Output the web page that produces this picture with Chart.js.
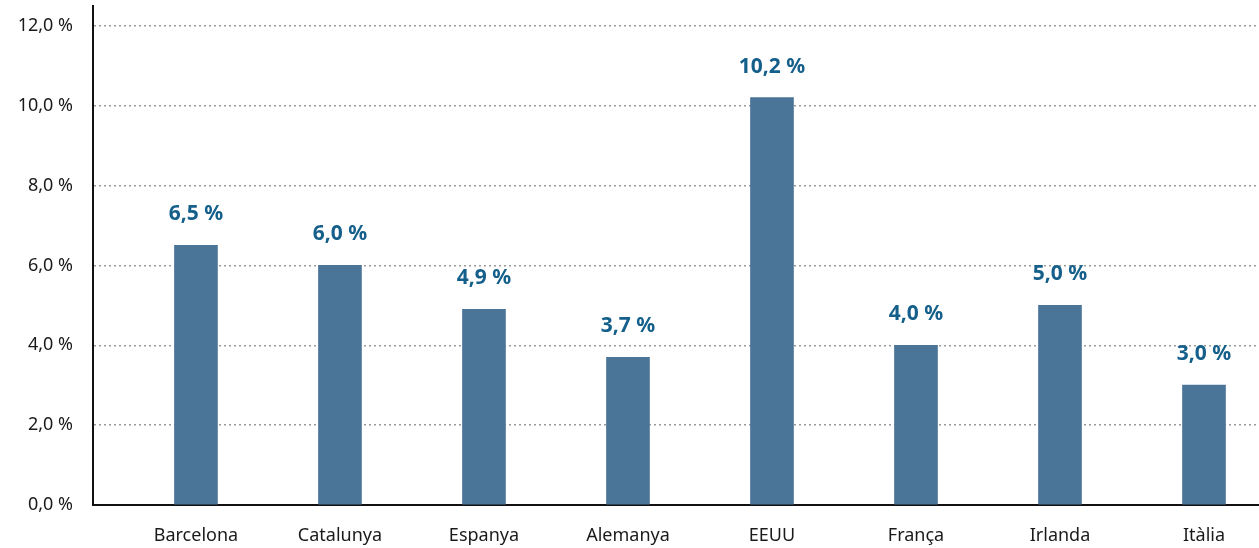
<!DOCTYPE html>
<html>
<head>
<meta charset="utf-8">
<script src="https://cdn.jsdelivr.net/npm/chart.js@4/dist/chart.umd.min.js"></script>
<style>
  html, body { margin: 0; padding: 0; background: #fff; overflow: hidden; }
  #cadre { width: 1259px; height: 548px; overflow: hidden; position: relative; }
  #wrap { width: 1259px; height: 573px; position: absolute; top: -25px; left: 0; }
</style>
</head>
<body>
<div id="cadre"><div id="wrap"><canvas id="grafic"></canvas></div></div>
<script>
// dades llegides del gràfic
const categories = ['Barcelona', 'Catalunya', 'Espanya', 'Alemanya', 'EEUU', 'França', 'Irlanda', 'Itàlia'];
const valors = [6.5, 6.0, 4.9, 3.7, 10.2, 4.0, 5.0, 3.0];
const ticksY = [0, 2, 4, 6, 8, 10, 12];

const fmt = v => v.toFixed(1).replace('.', ',') + ' %';

// etiquetes sobre les barres
const etiquetes = {
  id: 'etiquetes',
  afterDatasetsDraw(chart) {
    const ctx = chart.ctx;
    const meta = chart.getDatasetMeta(0);
    ctx.save();
    ctx.font = 'bold 21px "Noto Sans"';
    ctx.fillStyle = '#155f8b';
    ctx.textAlign = 'center';
    ctx.textBaseline = 'middle';
    meta.data.forEach((bar, i) => {
      ctx.fillText(fmt(valors[i]), bar.x, bar.y - 31);
    });
    ctx.restore();
  }
};

const ctx = document.getElementById('grafic').getContext('2d');
new Chart(ctx, {
  type: 'bar',
  data: {
    datasets: [{
      data: valors.map((v, i) => ({ x: i, y: v })),
      backgroundColor: '#4a7599',
      barThickness: 43
    }]
  },
  options: {
    responsive: true,
    maintainAspectRatio: false,
    animation: false,
    layout: { padding: { top: 5, right: 0, bottom: 0, left: 0 } },
    plugins: { legend: { display: false }, tooltip: { enabled: false } },
    scales: {
      x: {
        type: 'linear',
        offset: false,
        min: -0.715,
        max: 7.382,
        afterBuildTicks: axis => { axis.ticks = categories.map((_, i) => ({ value: i })); },
        afterFit: axis => { axis.height = 43; },
        grid: { display: false },
        border: { display: true, color: '#111', width: 2 },
        ticks: {
          color: '#1a1a1a',
          font: { family: 'Noto Sans', size: 18 },
          padding: 12,
          autoSkip: false,
          maxRotation: 0,
          callback: v => categories[v]
        }
      },
      y: {
        min: 0,
        max: 12.5,
        afterBuildTicks: axis => { axis.ticks = ticksY.map(v => ({ value: v })); },
        afterFit: axis => { axis.width = 93; },
        grid: { color: '#9a9a9a', lineWidth: 1.5, drawTicks: false },
        border: { display: true, color: '#111', width: 2, dash: [2, 3] },
        ticks: {
          color: '#1a1a1a',
          font: { family: 'Noto Sans', size: 18 },
          padding: 20,
          callback: v => fmt(v)
        }
      }
    }
  },
  plugins: [etiquetes]
});
</script>
</body>
</html>
